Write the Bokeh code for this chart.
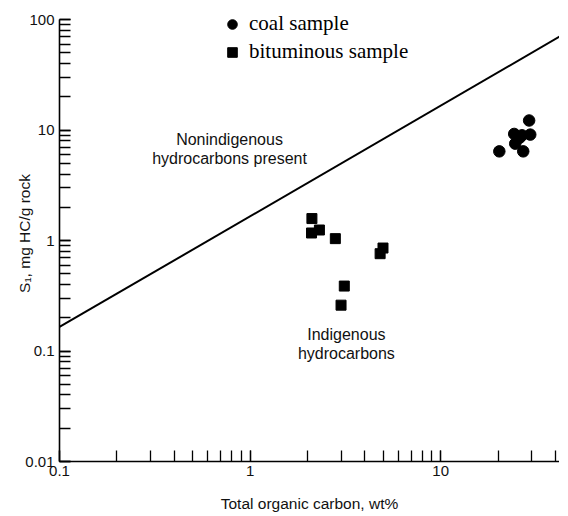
from bokeh.plotting import figure
from bokeh.models import Range1d, Label, CustomJSTickFormatter
from bokeh.embed import file_html
from bokeh.resources import INLINE

# ---- data ----
coal_toc = [29.1, 24.3, 26.7, 29.5, 24.6, 20.3, 27.1, 25.9]
coal_s1 = [12.2, 9.22, 8.96, 9.09, 7.53, 6.41, 6.41, 8.5]

bit_toc = [2.11, 2.10, 2.31, 2.80, 4.98, 4.81, 3.12, 3.00]
bit_s1 = [1.58, 1.17, 1.245, 1.04, 0.855, 0.76, 0.387, 0.26]

# boundary line between indigenous / nonindigenous hydrocarbons
line_toc = [0.1, 42.0]
line_s1 = [0.165, 70.0]

x_ticks = [0.1, 1, 10, 100]
y_ticks = [0.01, 0.1, 1, 10, 100]

FONT = "Liberation Sans"

p = figure(width=559, height=514, x_axis_type="log", y_axis_type="log",
           x_range=Range1d(0.1, 42.0), y_range=Range1d(0.01, 134),
           output_backend="svg", toolbar_location=None,
           min_border_left=59, min_border_right=0, min_border_top=5,
           min_border_bottom=53)

p.outline_line_color = None
p.xgrid.visible = False
p.ygrid.visible = False
p.background_fill_color = "white"
p.border_fill_color = "white"

fmt = CustomJSTickFormatter(code="return String(Number(tick.toPrecision(6)));")
for ax in (p.xaxis[0], p.yaxis[0]):
    ax.formatter = fmt
    ax.axis_line_color = "black"
    ax.axis_line_width = 1.6
    ax.major_tick_in = 11
    ax.major_tick_out = 0
    ax.minor_tick_in = 11
    ax.minor_tick_out = 0
    ax.major_tick_line_color = "black"
    ax.minor_tick_line_color = "black"
    ax.major_tick_line_width = 1.3
    ax.minor_tick_line_width = 1.3
    ax.major_label_text_font = FONT
    ax.major_label_text_font_size = "15px"
    ax.major_label_text_color = "#111111"
    ax.axis_label_text_font = FONT
    ax.axis_label_text_font_size = "15.5px"
    ax.axis_label_text_font_style = "normal"
    ax.axis_label_text_color = "#111111"

p.xaxis.ticker.num_minor_ticks = 10
p.yaxis.ticker.num_minor_ticks = 10

p.xaxis.axis_label = "Total organic carbon, wt%"
p.xaxis.major_label_standoff = 4
p.xaxis.axis_label_standoff = 16

p.yaxis.axis_label = "S\u2081, mg HC/g rock"
p.yaxis.major_label_standoff = 5
p.yaxis.axis_label_standoff = -11
p.yaxis.bounds = (0.01, 100)

# boundary line
p.line(line_toc, line_s1, line_color="black", line_width=2)

# samples
p.scatter(coal_toc, coal_s1, marker="circle", size=11.5, color="black",
          legend_label="coal sample")
p.scatter(bit_toc, bit_s1, marker="square", size=10, color="black",
          legend_label="bituminous sample")

lg = p.legend[0]
lg.location = (161, 397)
lg.border_line_color = None
lg.background_fill_alpha = 0
lg.padding = 0
lg.margin = 0
lg.spacing = 3
lg.glyph_width = 24
lg.glyph_height = 24
lg.label_standoff = 5
lg.label_text_font = "Liberation Serif"
lg.label_text_font_size = "21px"
lg.label_text_color = "black"

for x, y, txt in [(0.78, 6.78, "Nonindigenous\nhydrocarbons present"),
                  (3.2, 0.116, "Indigenous\nhydrocarbons")]:
    p.add_layout(Label(x=x, y=y, text=txt, text_align="center",
                       text_baseline="middle", text_font=FONT,
                       text_font_size="16px", text_color="#111111",
                       text_line_height=1.13))

open("out.html", "w").write(file_html(p, INLINE))
